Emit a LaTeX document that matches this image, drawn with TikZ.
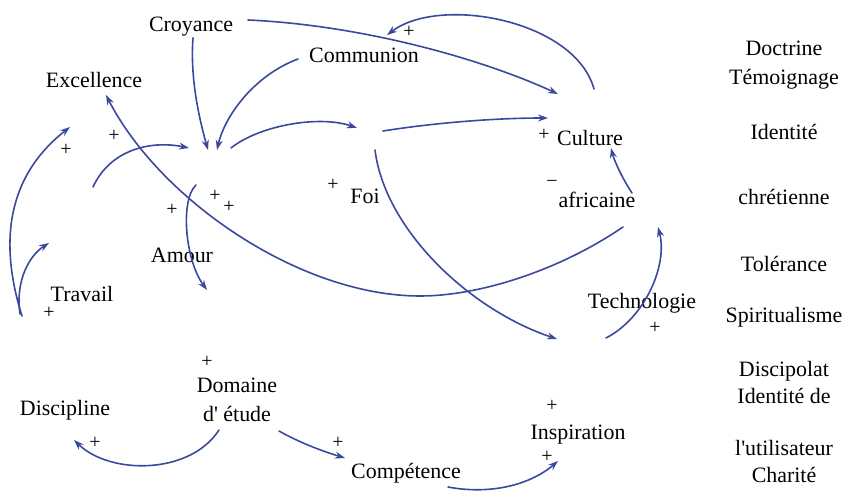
\documentclass[tikz,border=0pt]{standalone}
\usepackage{fontspec}
\setmainfont{Liberation Serif}
\usetikzlibrary{arrows.meta}
\definecolor{linkblue}{RGB}{58,72,158}

\begin{document}
\begin{tikzpicture}[x=1bp, y=-1bp, line cap=round, line join=round,
    >={Stealth[length=10bp,width=7bp]},
    var/.style={font=\fontsize{22}{29}\selectfont, inner sep=0pt, anchor=base},
    sign/.style={font=\fontsize{20}{20}\selectfont, inner sep=0pt},
    link/.style={->, draw=linkblue, line width=1.6bp}]
  \useasboundingbox (0,0) rectangle (850,493);

  % variables
  \node[var] (croy) at (191,32)  {Croyance};
  \node[var] (comm) at (364,63)  {Communion};
  \node[var] (exc)  at (94,88)   {Excellence};
  \node[var] (foi)  at (365,204) {Foi};
  \node[var] (cult) at (590,146) {Culture};
  \node[var] (afr)  at (597,208) {africaine};
  \node[var] (amour) at (182,263) {Amour};
  \node[var] (trav) at (82,302)  {Travail};
  \node[var] (tech) at (642,309) {Technologie};
  \node[var, anchor=center, align=center] (dom) at (237,400) {Domaine\\d\textquotesingle{} étude};
  \node[var] (disc) at (65,415)  {Discipline};
  \node[var] (comp) at (406,478) {Compétence};
  \node[var] (insp) at (578,439) {Inspiration};

  % list on the right
  \foreach \txt/\yy [count=\i] in {Doctrine/56, Témoignage/85, Identité/140,
      chrétienne/205, Tolérance/272, Spiritualisme/323, Discipolat/376,
      Identité de/403, l\textquotesingle utilisateur/455, Charité/482}
    \node[var] (side\i) at (784,\yy) {\txt};

  % ends of the links
  \coordinate (croyS)  at (193,38);
  \coordinate (hubA)   at (208,150);
  \coordinate (commW)  at (298,59);
  \coordinate (hubB)   at (217,150);
  \coordinate (croyE)  at (248,20);
  \coordinate (cultN)  at (558,94);
  \coordinate (cultNE) at (594,89);
  \coordinate (commN)  at (387,35);
  \coordinate (hubE)   at (231,148);
  \coordinate (foiW)   at (357,128);
  \coordinate (foiE)   at (383,131);
  \coordinate (cultW)  at (548,118);
  \coordinate (foiS)   at (375,150);
  \coordinate (inspN)  at (557,339);
  \coordinate (afrSW)  at (623,227);
  \coordinate (excS)   at (106,95);
  \coordinate (techW)  at (606,338);
  \coordinate (afrSE)  at (658,227);
  \coordinate (afrN)   at (632,193);
  \coordinate (cultS)  at (611,148);
  \coordinate (travA)  at (22,316);
  \coordinate (excSW)  at (70,127);
  \coordinate (travB)  at (20,314);
  \coordinate (travN)  at (49,243);
  \coordinate (lowL)   at (93,187);
  \coordinate (hubW)   at (189,148);
  \coordinate (hubS)   at (196,185);
  \coordinate (amourS) at (207,290);
  \coordinate (domSW)  at (219,430);
  \coordinate (discSE) at (74,440);
  \coordinate (domSE)  at (279,431);
  \coordinate (compNW) at (345,458);
  \coordinate (compE)  at (448,487);
  \coordinate (inspS)  at (558,461);

  % links
  \draw[link] (croyS) .. controls (190,78) and (199,118) .. (hubA);
  \draw[link] (commW) .. controls (255,75) and (225,115) .. (hubB);
  \draw[link] (croyE) .. controls (360,25) and (480,58) .. (cultN);
  \draw[link] (cultNE) .. controls (575,20) and (440,-5) .. (commN);
  \draw[link] (hubE) .. controls (260,125) and (320,115) .. (foiW);
  \draw[link] (foiE) .. controls (440,122) and (500,118) .. (cultW);
  \draw[link] (foiS) .. controls (385,230) and (470,310) .. (inspN);
  \draw[link] (afrSW) .. controls (560,270) and (480,296) .. (420,296)
                      .. controls (300,296) and (160,200) .. (excS);
  \draw[link] (techW) .. controls (645,318) and (668,265) .. (afrSE);
  \draw[link] (afrN) .. controls (622,178) and (614,160) .. (cultS);
  \draw[link] (travA) .. controls (-5,230) and (15,170) .. (excSW);
  \draw[link] (travB) .. controls (15,280) and (30,255) .. (travN);
  \draw[link] (lowL) .. controls (110,150) and (150,140) .. (hubW);
  \draw[link] (hubS) .. controls (180,200) and (185,260) .. (amourS);
  \draw[link] (domSW) .. controls (190,475) and (110,475) .. (discSE);
  \draw[link] (domSE) .. controls (300,443) and (325,452) .. (compNW);
  \draw[link] (compE) .. controls (490,495) and (530,485) .. (inspS);

  % polarities
  \foreach \xx/\yy in {409/32, 114/136, 66/150, 333/185, 215/196, 229/207,
      172/210, 544/135, 49/313, 207/362, 95/443, 338/443, 655/328,
      552/406, 547/457}
    \node[sign] at (\xx,\yy) {+};
  \node[sign] (neg) at (552,184) {−};
\end{tikzpicture}
\end{document}
